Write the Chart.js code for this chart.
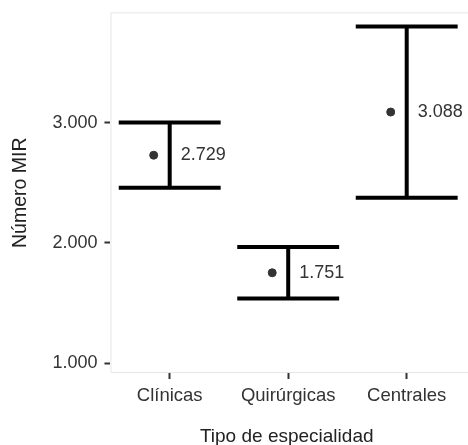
<!DOCTYPE html>
<html>
<head>
<meta charset="utf-8">
<script src="https://cdn.jsdelivr.net/npm/chart.js@4.4.0/dist/chart.umd.min.js"></script>
<style>
  html, body { margin: 0; padding: 0; background: #fff; }
  #wrap { width: 468px; height: 445px; position: relative; }
</style>
</head>
<body>
<div id="wrap"><canvas id="mirChart"></canvas></div>
<script>
// --- DATOS ---
const categorias = ['Clínicas', 'Quirúrgicas', 'Centrales'];
const medias = [2729, 1751, 3088];
const limiteInf = [2458, 1537, 2376];
const limiteSup = [3000, 1965, 3800];
const ticksY = [1000, 2000, 3000];

// formato con punto de miles
function fmt(v) {
    return String(Math.round(v)).replace(/\B(?=(\d{3})+(?!\d))/g, '.');
}

const FONT = "'Liberation Sans', Arial, sans-serif";

// --- PLUGIN: barras de error, etiquetas y marco del panel ---
const errorBars = {
    id: 'errorBars',
    beforeDatasetsDraw(chart) {
        const { ctx, chartArea: a } = chart;
        ctx.save();
        ctx.strokeStyle = '#e6e6e6';
        ctx.lineWidth = 1;
        ctx.beginPath();
        ctx.moveTo(chart.width, a.top + 0.5);
        ctx.lineTo(a.left + 0.5, a.top + 0.5);
        ctx.lineTo(a.left + 0.5, a.bottom - 0.5);
        ctx.lineTo(chart.width, a.bottom - 0.5);
        ctx.stroke();
        ctx.restore();
    },
    afterDatasetsDraw(chart) {
        const { ctx, scales: { x, y } } = chart;
        ctx.save();
        ctx.strokeStyle = '#000';
        ctx.lineWidth = 4;
        ctx.lineCap = 'butt';
        categorias.forEach((c, i) => {
            const cx = x.getPixelForValue(i + 1);
            const x0 = x.getPixelForValue(i + 1 - 0.43);
            const x1 = x.getPixelForValue(i + 1 + 0.43);
            const yHi = y.getPixelForValue(limiteSup[i]);
            const yLo = y.getPixelForValue(limiteInf[i]);
            ctx.beginPath();
            ctx.moveTo(cx, yHi);
            ctx.lineTo(cx, yLo);
            ctx.moveTo(x0, yHi);
            ctx.lineTo(x1, yHi);
            ctx.moveTo(x0, yLo);
            ctx.lineTo(x1, yLo);
            ctx.stroke();

            // etiqueta con la media
            ctx.fillStyle = '#333';
            ctx.font = '18px ' + FONT;
            ctx.textAlign = 'left';
            ctx.textBaseline = 'middle';
            ctx.fillText(fmt(medias[i]), cx + 11, y.getPixelForValue(medias[i]));
        });
        ctx.restore();
    }
};

const ctx = document.getElementById('mirChart').getContext('2d');
new Chart(ctx, {
    type: 'scatter',
    data: {
        datasets: [{
            label: 'Media',
            data: medias.map((m, i) => ({ x: i + 1 - 0.135, y: m })),
            backgroundColor: '#333',
            borderColor: '#333',
            pointRadius: 4,
            pointHoverRadius: 4
        }]
    },
    options: {
        responsive: true,
        maintainAspectRatio: false,
        animation: false,
        layout: { padding: { top: 12, right: 0, left: 9, bottom: -3 } },
        plugins: { legend: { display: false }, tooltip: { enabled: false } },
        scales: {
            x: {
                type: 'linear',
                min: 0.5,
                max: 3.475,
                afterBuildTicks: (s) => { s.ticks = [1, 2, 3].map(v => ({ value: v })); },
                ticks: {
                    color: '#333',
                    font: { family: FONT, size: 18.5 },
                    padding: 6,
                    maxRotation: 0,
                    callback: (v) => categorias[v - 1]
                },
                grid: { drawOnChartArea: false, drawTicks: true, tickLength: 6, tickWidth: 2, tickColor: '#333' },
                border: { display: false },
                title: {
                    display: true,
                    text: 'Tipo de especialidad',
                    color: '#222',
                    font: { family: FONT, size: 19 },
                    padding: { top: 12, bottom: 0 }
                }
            },
            y: {
                min: 917,
                max: 3917,
                afterBuildTicks: (s) => { s.ticks = ticksY.map(v => ({ value: v })); },
                ticks: {
                    color: '#333',
                    font: { family: FONT, size: 18, lineHeight: 0.6 },
                    padding: 7,
                    callback: (v) => fmt(v)
                },
                grid: { drawOnChartArea: false, drawTicks: true, tickLength: 6, tickWidth: 2, tickColor: '#333' },
                border: { display: false },
                title: {
                    display: true,
                    text: 'Número MIR',
                    color: '#222',
                    font: { family: FONT, size: 19.5 },
                    padding: { top: 0, bottom: 13 }
                }
            }
        }
    },
    plugins: [errorBars]
});
</script>
</body>
</html>
